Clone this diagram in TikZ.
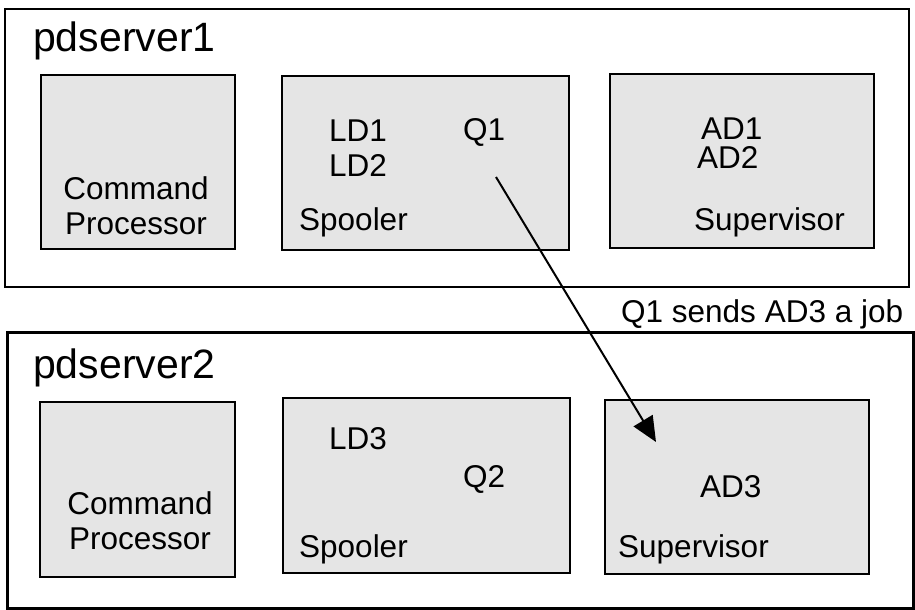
\documentclass[tikz,border=0pt]{standalone}
\usepackage{fontspec}
\setmainfont{Liberation Sans}
\usetikzlibrary{positioning,arrows.meta}

\tikzset{
    server/.style={draw, line width=2pt, inner sep=0pt},
    proc/.style={draw, line width=2pt, fill=gray!20, inner sep=0pt, minimum height=174pt},
    lbl/.style={inner sep=0pt, anchor=base west, font=\fontsize{31.5}{35}\selectfont},
    title/.style={inner sep=0pt, anchor=base west, font=\fontsize{41}{48}\selectfont}
}

\begin{document}
\begin{tikzpicture}[x=1pt, y=-1pt]
    \useasboundingbox (0,0) rectangle (915,610);

    % first server
    \node[server, minimum width=904pt, minimum height=278pt] (srv1) at (457,148) {};
    \node[title] (srv1name) at (33,52) {pdserver1};
    \node[proc, minimum width=194pt] (cp1) at (138,162) {};
    \node[proc, minimum width=287pt] (sp1) at (425.5,163) {};
    \node[proc, minimum width=264pt] (su1) at (742,161) {};
    \node[lbl, anchor=south, align=center] (cp1name) at (136,235) {Command\\Processor};
    \node[lbl] (ld1) at (329,141) {LD1};
    \node[lbl] (ld2) at (329,176) {LD2};
    \node[lbl] (q1) at (463,140) {Q1};
    \node[lbl] (sp1name) at (299,230) {Spooler};
    \node[lbl] (ad1) at (701,139) {AD1};
    \node[lbl] (ad2) at (697,168) {AD2};
    \node[lbl] (su1name) at (694,230) {Supervisor};

    % second server
    \node[server, line width=3pt, minimum width=906pt, minimum height=276pt] (srv2) at (460,470) {};
    \node[title] (srv2name) at (33,378) {pdserver2};
    \node[proc, minimum width=195pt, minimum height=175pt] (cp2) at (137.5,489.5) {};
    \node[proc, minimum width=287pt, minimum height=175pt] (sp2) at (426.5,485.5) {};
    \node[proc, minimum width=264pt] (su2) at (737,487) {};
    \node[lbl, anchor=south, align=center] (cp2name) at (140,550) {Command\\Processor};
    \node[lbl] (ld3) at (329,449) {LD3};
    \node[lbl] (q2) at (463,487) {Q2};
    \node[lbl] (sp2name) at (299,557) {Spooler};
    \node[lbl] (ad3) at (700,497) {AD3};
    \node[lbl] (su2name) at (618,557) {Supervisor};

    % the job
    \coordinate (jobfrom) at (496,177);
    \coordinate (jobto) at (656,442);
    \draw[line width=2pt, -{Triangle[length=25pt, width=22pt]}] (jobfrom) -- (jobto);
    \node[lbl] (jobnote) at (621,322) {Q1 sends AD3 a job};
\end{tikzpicture}
\end{document}
